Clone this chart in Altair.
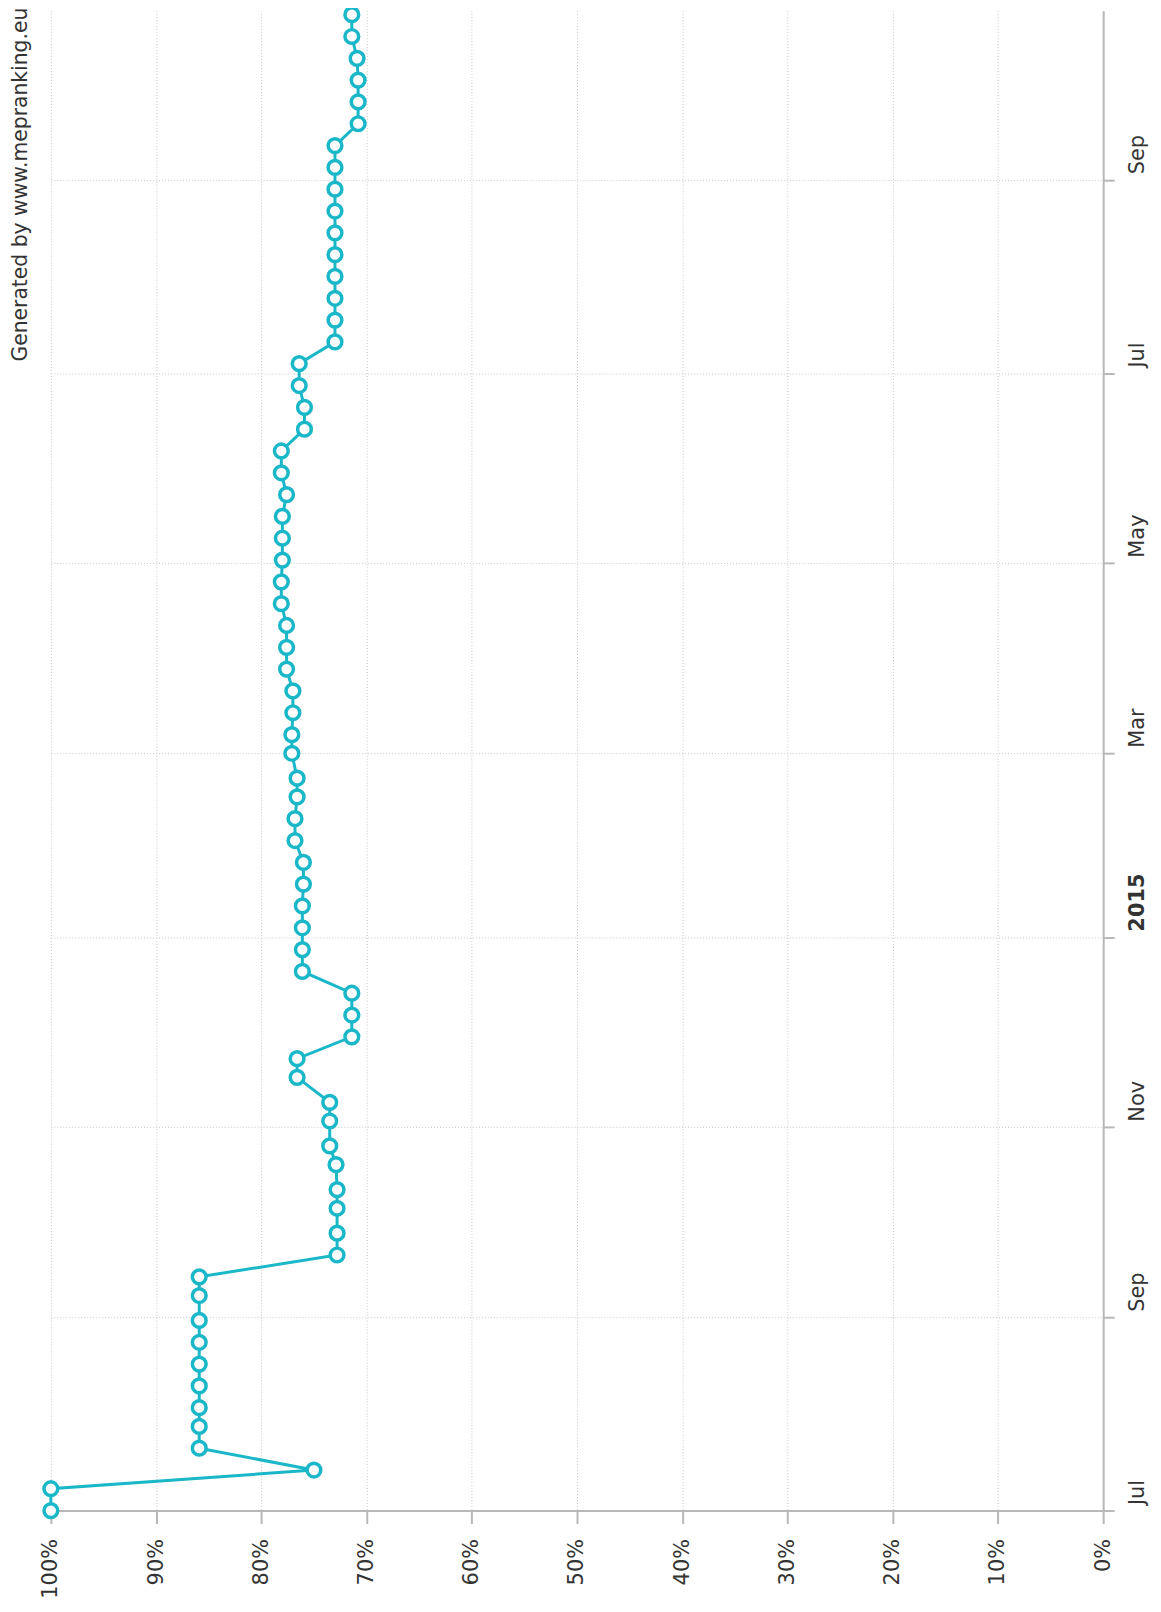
import altair as alt
import pandas as pd

# ---- data ----
dates = [
    "2014-07-01", "2014-07-08", "2014-07-14", "2014-07-21", "2014-07-28",
    "2014-08-03", "2014-08-10", "2014-08-17", "2014-08-24", "2014-08-31",
    "2014-09-08", "2014-09-14", "2014-09-21", "2014-09-28",
    "2014-10-06", "2014-10-12", "2014-10-20", "2014-10-26",
    "2014-11-03", "2014-11-09", "2014-11-17", "2014-11-23", "2014-11-30",
    "2014-12-07", "2014-12-14", "2014-12-21", "2014-12-28",
    "2015-01-04", "2015-01-11", "2015-01-18", "2015-01-25",
    "2015-02-01", "2015-02-08", "2015-02-15", "2015-02-21",
    "2015-03-01", "2015-03-07", "2015-03-14", "2015-03-21", "2015-03-28",
    "2015-04-04", "2015-04-11", "2015-04-18", "2015-04-25",
    "2015-05-02", "2015-05-09", "2015-05-16", "2015-05-23", "2015-05-30",
    "2015-06-06", "2015-06-13", "2015-06-20", "2015-06-27",
    "2015-07-04", "2015-07-11", "2015-07-18", "2015-07-25",
    "2015-08-01", "2015-08-08", "2015-08-15", "2015-08-22", "2015-08-29",
    "2015-09-05", "2015-09-12", "2015-09-19", "2015-09-26",
    "2015-10-03", "2015-10-10", "2015-10-17", "2015-10-24",
]
values = [
    100, 100, 75.0,
    85.9, 85.9, 85.9, 85.9, 85.9, 85.9, 85.9, 85.9, 85.9,
    72.8, 72.8, 72.8, 72.8, 72.9,
    73.5, 73.5, 73.5,
    76.6, 76.6,
    71.4, 71.4, 71.4,
    76.1, 76.1, 76.1, 76.1,
    76.0, 76.0,
    76.8, 76.8,
    76.6, 76.6,
    77.1, 77.1,
    77.0, 77.0,
    77.6, 77.6, 77.6,
    78.1, 78.1,
    78.0, 78.0, 78.0,
    77.6,
    78.1, 78.1,
    75.9, 75.9,
    76.4, 76.4,
    73.0, 73.0, 73.0, 73.0, 73.0, 73.0, 73.0, 73.0, 73.0, 73.0,
    70.8, 70.8, 70.8, 70.9,
    71.4, 71.4,
]
pct_ticks = [0, 10, 20, 30, 40, 50, 60, 70, 80, 90, 100]
month_ticks = [(2014, 7), (2014, 9), (2014, 11), (2015, 1),
               (2015, 3), (2015, 5), (2015, 7), (2015, 9)]
credit = "Generated by www.mepranking.eu"

# ---- styling ----
TEAL = "#1ab7c9"
AXIS = "#b8b8b8"
GRID = "#c8c8c8"
TXT = "#333333"
FONT = "DejaVu Sans"

df = pd.DataFrame({"date": dates, "pct": values, "i": list(range(len(dates)))})

x_enc = alt.X(
    "pct:Q",
    scale=alt.Scale(domain=[0, 100], reverse=True, nice=False, zero=False),
    axis=alt.Axis(
        orient="bottom", values=pct_ticks, labelExpr="datum.value + '%'",
        labelAngle=270, labelAlign="right", labelBaseline="middle",
        labelFlush=False, labelOverlap=False, labelBound=False,
        tickSize=13, tickWidth=2, tickColor=AXIS, labelPadding=15,
        domainColor=AXIS, domainWidth=2,
        grid=True, gridColor=GRID, gridDash=[1, 2], gridWidth=1,
        labelFont=FONT, labelFontSize=21, labelColor=TXT, title=None,
    ),
)

y_enc = alt.Y(
    "date:T",
    scale=alt.Scale(
        type="utc", nice=False,
        domain=[alt.DateTime(year=2014, month=7, date=1, utc=True),
                alt.DateTime(year=2015, month=10, date=25, hours=6, utc=True)],
    ),
    axis=alt.Axis(
        orient="right",
        values=[alt.DateTime(year=y, month=m, date=1, utc=True) for y, m in month_ticks],
        labelExpr="utcmonth(datum.value) === 0 ? utcFormat(datum.value, '%Y') : utcFormat(datum.value, '%b')",
        labelFontWeight={"condition": {"test": "utcmonth(datum.value) === 0", "value": "bold"},
                         "value": "normal"},
        labelAngle=270, labelAlign="left", labelBaseline="alphabetic",
        labelOffset=-6, labelFlush=False, labelOverlap=False, labelBound=False,
        tickSize=11, tickWidth=2, tickColor=AXIS, labelPadding=29,
        domainColor=AXIS, domainWidth=2,
        grid=True, gridColor=GRID, gridDash=[1, 2], gridWidth=1,
        labelFont=FONT, labelFontSize=21, labelColor=TXT, title=None,
    ),
)

base = alt.Chart(df)
line = base.mark_line(color=TEAL, strokeWidth=3).encode(x=x_enc, y=y_enc, order="i:Q")
points = base.mark_point(
    shape="circle", filled=True, fill="white", fillOpacity=1, stroke=TEAL,
    strokeWidth=3.5, strokeOpacity=1, size=190, opacity=1,
).encode(x="pct:Q", y="date:T")

label = alt.Chart(pd.DataFrame({"t": [credit]})).mark_text(
    angle=270, align="left", baseline="alphabetic", fontSize=20.4, font=FONT, color=TXT,
).encode(text="t:N", x=alt.value(-24), y=alt.value(352))

chart = alt.layer(line, points, label).properties(
    width=1056, height=1505,
    padding={"left": 43, "top": 0, "right": 50, "bottom": 91},
    autosize=alt.AutoSizeParams(type="none"),
).configure_view(stroke=None)

chart.save("out.html", embed_options={"renderer": "svg", "actions": False})
